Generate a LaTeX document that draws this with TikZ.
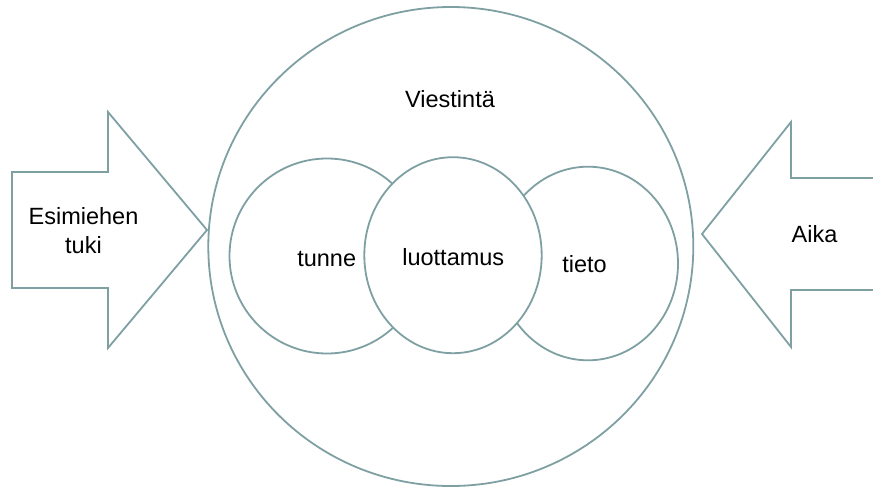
\documentclass[tikz,border=0pt]{standalone}
\usepackage{fontspec}
\setmainfont{Liberation Sans}
\definecolor{edge}{RGB}{127,160,163}
\begin{document}
\begin{tikzpicture}[x=1pt,y=-1pt,
  outline/.style={draw=edge,line width=1.8pt,line join=miter,fill=white},
  lbl/.style={font=\fontsize{23.5}{28.3}\selectfont,inner sep=0pt,text=black}]
\useasboundingbox (0,0) rectangle (873,488);
\clip (0,0) rectangle (873,488);

% incoming arrows on both sides
\draw[outline] (12,172) -- (108,172) -- (108,112) -- (207,230)
  -- (108,348) -- (108,288) -- (12,288) -- cycle;
\draw[outline] (885,178) -- (791,178) -- (791,122) -- (702,234)
  -- (791,347) -- (791,290) -- (885,290);

% outer circle
\draw[outline] (450.8,246.5) ellipse [x radius=242.5, y radius=239.5];

% three overlapping circles, the middle one on top
\draw[outline] (327,256) circle [radius=97.5];
\draw[outline] (588,263.5) ellipse [x radius=90, y radius=96.8];
\draw[outline] (453,255.2) ellipse [x radius=88.7, y radius=98];

% labels
\node[lbl,anchor=base] (viestinta) at (450,107.5) {Viestintä};
\node[lbl,anchor=base] (tunne) at (326.7,266) {tunne};
\node[lbl,anchor=base] (luottamus) at (453.3,265.7) {luottamus};
\node[lbl,anchor=base] (tieto) at (584.5,272.3) {tieto};
\node[lbl,anchor=base] (aika) at (814.5,242.3) {Aika};
\node[lbl,align=center] (tuki) at (83.5,230.6) {Esimiehen\\tuki};
\end{tikzpicture}
\end{document}
